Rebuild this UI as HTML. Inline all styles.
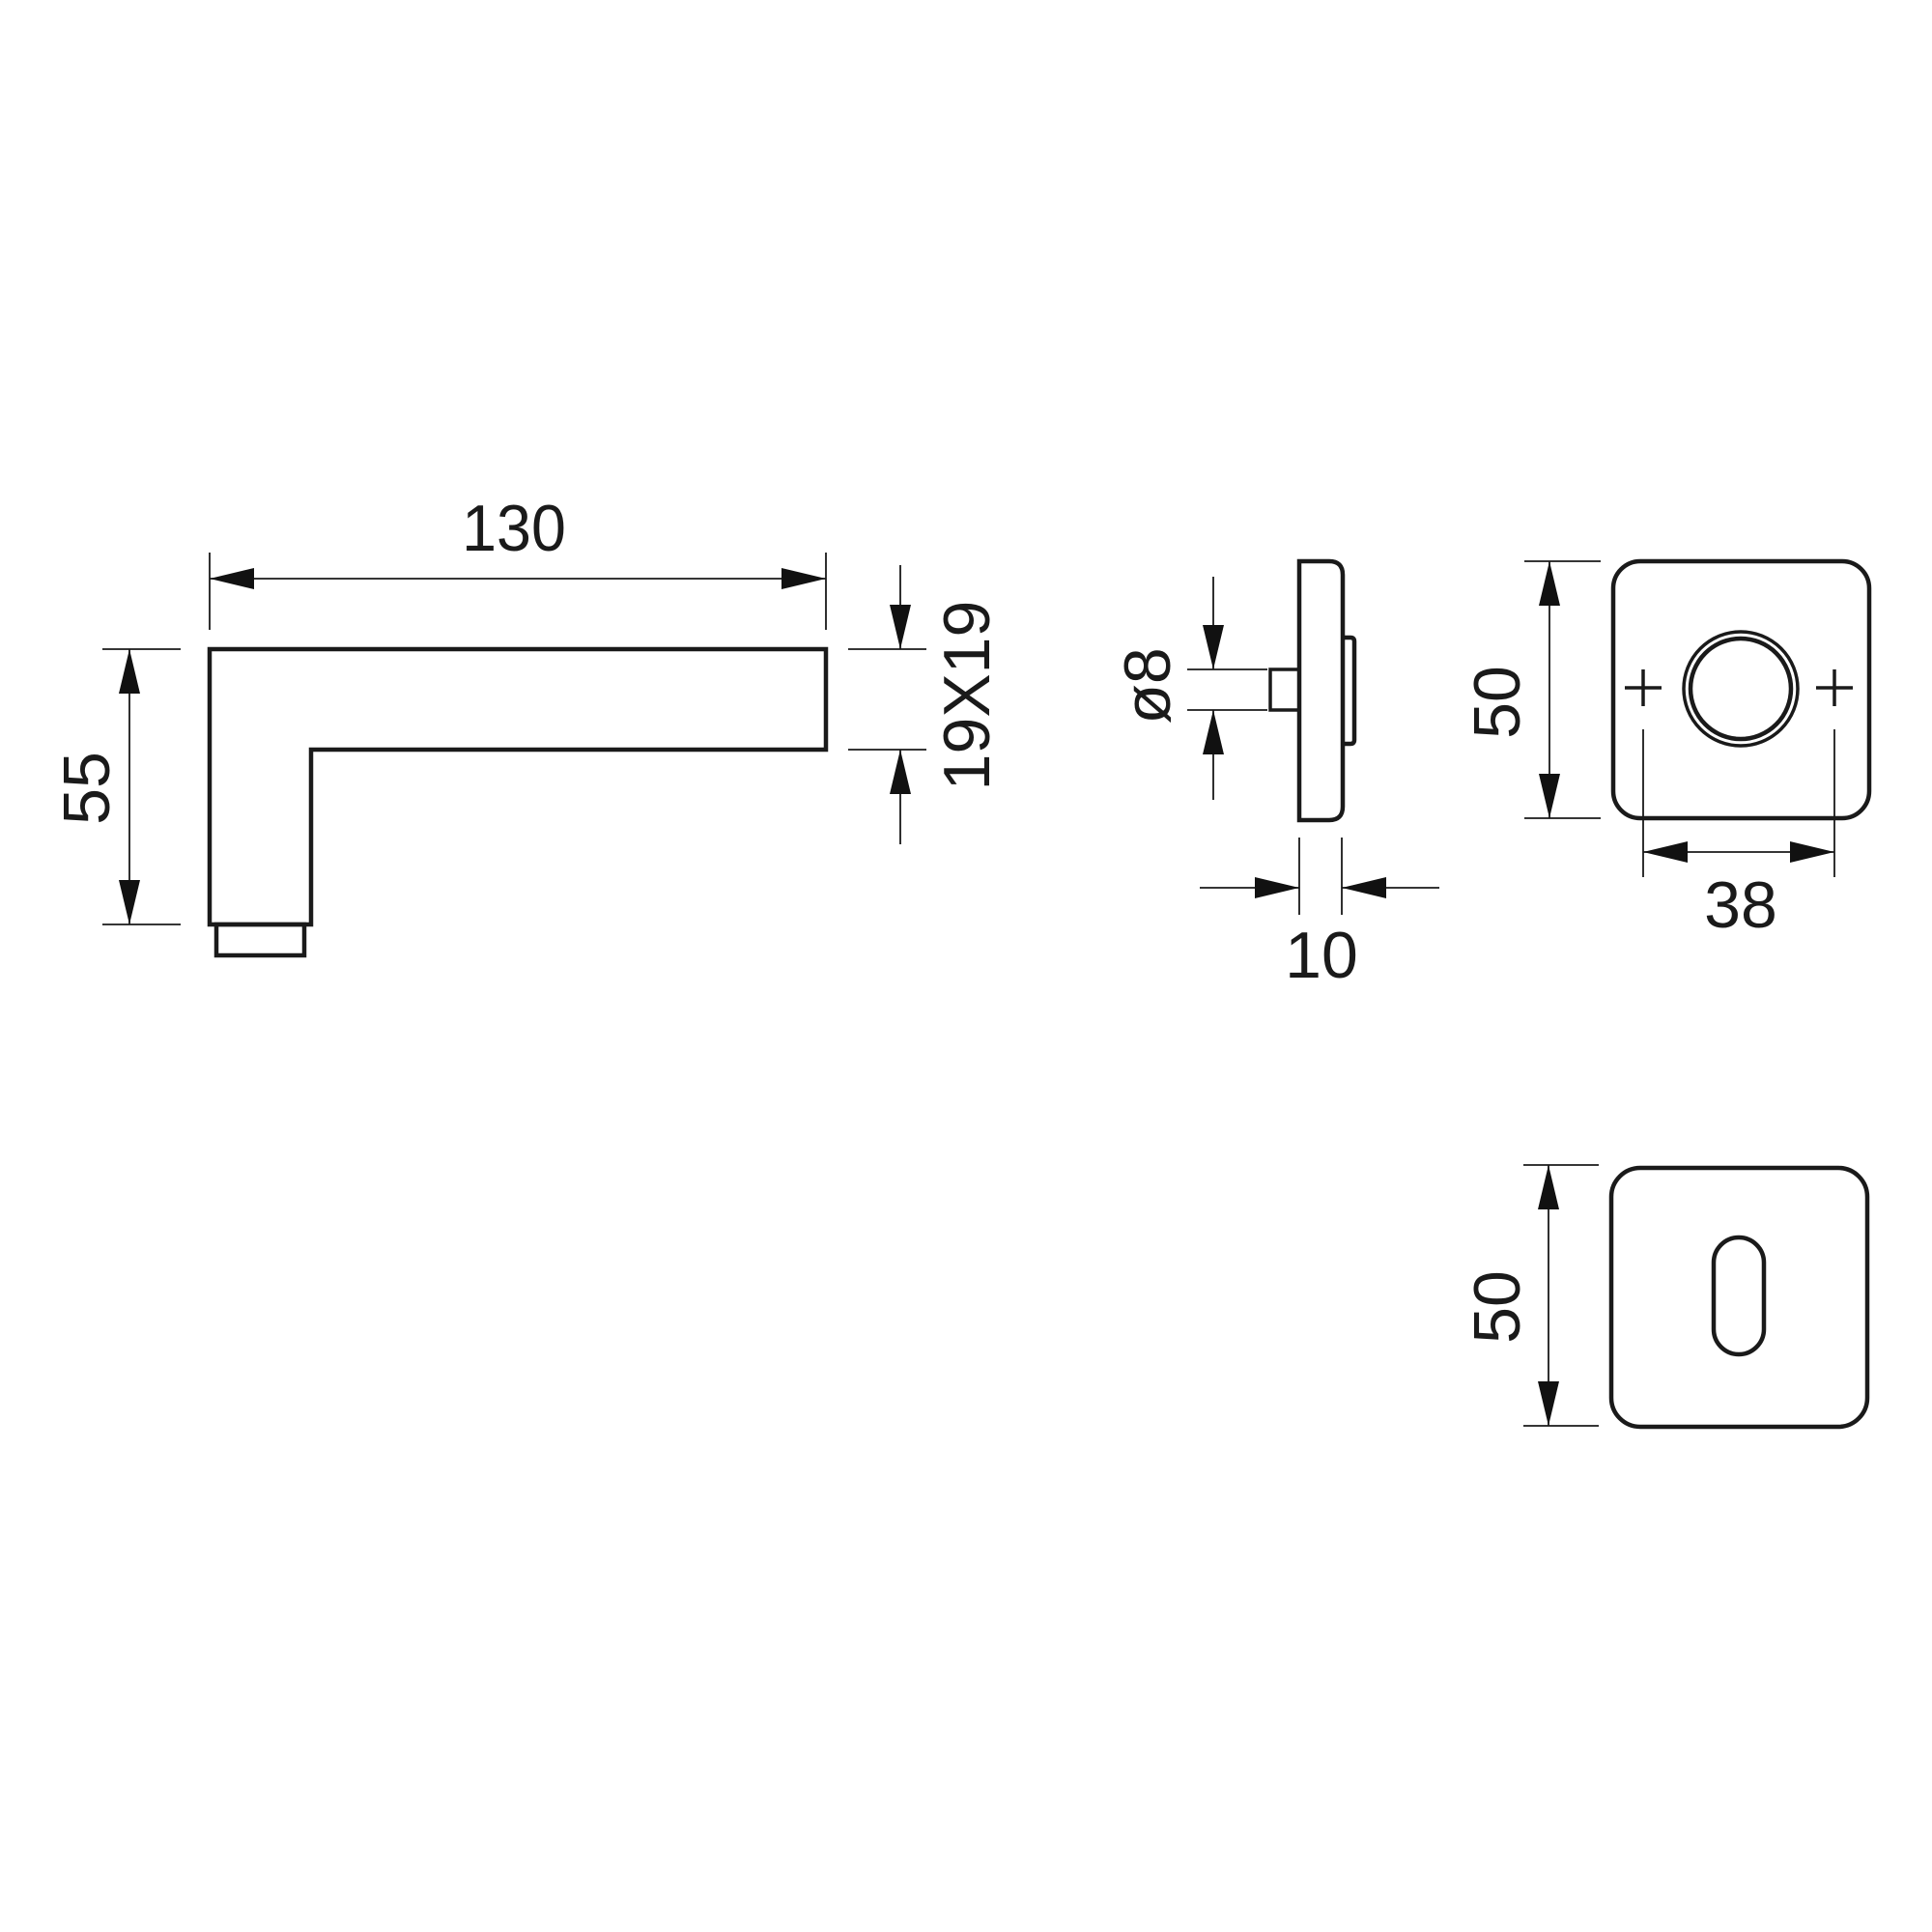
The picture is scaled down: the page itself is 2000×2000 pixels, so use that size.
<!DOCTYPE html>
<html><head><meta charset="utf-8"><style>html,body{margin:0;padding:0;background:#fff}svg{display:block}</style></head>
<body>
<svg width="2000" height="2000" viewBox="0 0 2000 2000" xmlns="http://www.w3.org/2000/svg">
<defs>
<marker id="a" viewBox="0 0 46 22" refX="46" refY="11" markerWidth="46" markerHeight="22" markerUnits="userSpaceOnUse" orient="auto-start-reverse"><path d="M0,0 L46,11 L0,22 Z" fill="#111"/></marker>
</defs>
<g fill="none" stroke="#1a1a1a" stroke-width="1.8">
<line x1="217" y1="572" x2="217" y2="652"/><line x1="855" y1="572" x2="855" y2="652"/>
<line x1="217" y1="599" x2="855" y2="599" marker-start="url(#a)" marker-end="url(#a)"/>
<line x1="106" y1="672" x2="187" y2="672"/><line x1="106" y1="957" x2="187" y2="957"/>
<line x1="134" y1="672" x2="134" y2="957" marker-start="url(#a)" marker-end="url(#a)"/>
<line x1="878" y1="672" x2="959" y2="672"/><line x1="878" y1="776" x2="959" y2="776"/>
<line x1="932" y1="585" x2="932" y2="672" marker-end="url(#a)"/>
<line x1="932" y1="874" x2="932" y2="776" marker-end="url(#a)"/>
<line x1="1229" y1="693" x2="1312" y2="693"/><line x1="1229" y1="735" x2="1312" y2="735"/>
<line x1="1256" y1="597" x2="1256" y2="693" marker-end="url(#a)"/>
<line x1="1256" y1="828" x2="1256" y2="735" marker-end="url(#a)"/>
<line x1="1345" y1="867" x2="1345" y2="947"/><line x1="1389" y1="867" x2="1389" y2="947"/>
<line x1="1242" y1="919" x2="1345" y2="919" marker-end="url(#a)"/>
<line x1="1490" y1="919" x2="1389" y2="919" marker-end="url(#a)"/>
<line x1="1578" y1="581" x2="1657" y2="581"/><line x1="1578" y1="847" x2="1657" y2="847"/>
<line x1="1604" y1="581" x2="1604" y2="847" marker-start="url(#a)" marker-end="url(#a)"/>
<line x1="1701" y1="755" x2="1701" y2="908"/><line x1="1899" y1="755" x2="1899" y2="908"/>
<line x1="1701" y1="882" x2="1899" y2="882" marker-start="url(#a)" marker-end="url(#a)"/>
<line x1="1577" y1="1206" x2="1655" y2="1206"/><line x1="1577" y1="1476" x2="1655" y2="1476"/>
<line x1="1603" y1="1206" x2="1603" y2="1476" marker-start="url(#a)" marker-end="url(#a)"/>
</g>
<g fill="none" stroke="#1a1a1a" stroke-width="4.5" stroke-linejoin="miter">
<path d="M217,672 H855 V776 H322 V957 H217 Z"/>
<rect x="224" y="957" width="91" height="32"/>
<path d="M1345,581 H1376 Q1390,581 1390,595 V835 Q1390,849 1376,849 H1345 Z"/>
<path d="M1390,660 H1398 Q1402,660 1402,664 V766 Q1402,770 1398,770 H1390"/>
<rect x="1315" y="693" width="30" height="42" stroke-width="3.5"/>
<rect x="1670" y="581" width="265" height="266" rx="28"/>
<circle cx="1802" cy="713" r="59" stroke-width="3.5"/>
<circle cx="1802" cy="713" r="52" stroke-width="4.5"/>
<path d="M1682,712 H1720 M1701,693 V731 M1880,712 H1918 M1899,693 V731" stroke-width="3.5"/>
<rect x="1668" y="1209" width="265" height="268" rx="30"/>
<rect x="1774" y="1281" width="52" height="121" rx="26"/>
</g>
<g font-family="'Liberation Sans',sans-serif" font-size="68" fill="#1a1a1a" text-anchor="middle">
<text x="532" y="570" transform="translate(532,0) scale(0.95,1) translate(-532,0)">130</text>
<text transform="translate(113,816) rotate(-90)">55</text>
<text transform="translate(1024,720) rotate(-90)">19X19</text>
<text transform="translate(1211,710) rotate(-90)">ø8</text>
<text x="1368" y="1012">10</text>
<text transform="translate(1573,727) rotate(-90)">50</text>
<text x="1802" y="960">38</text>
<text transform="translate(1573,1353) rotate(-90)">50</text>
</g>
</svg>
</body></html>
